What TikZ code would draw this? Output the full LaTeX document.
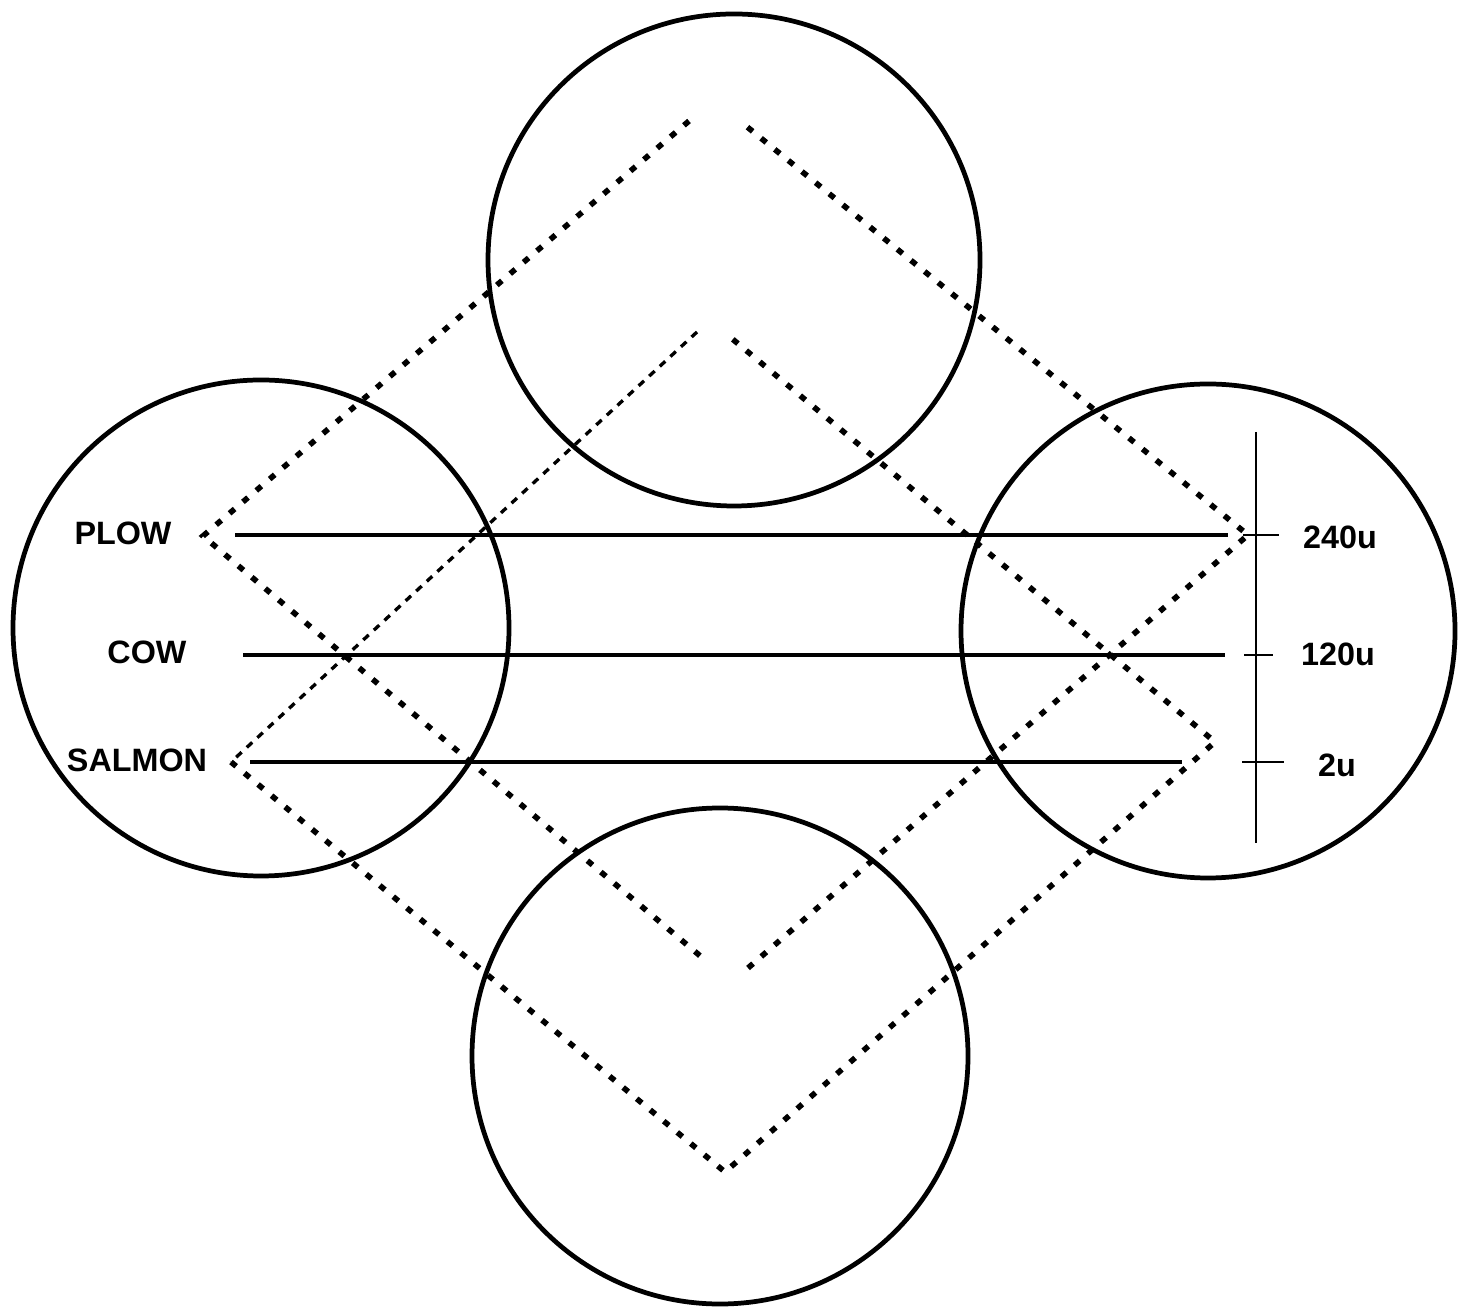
\documentclass[tikz,border=0pt]{standalone}
\usepackage{fontspec}
\setmainfont{Liberation Sans}
\usepackage{tikz}

\tikzset{
    ring/.style={draw,circle,line width=1.35pt,inner sep=0pt},
    bar/.style={line width=1.3pt},
    dots/.style={line width=1.6pt,dash pattern=on 1.9pt off 3.1pt},
    dashes/.style={line width=0.95pt,dash pattern=on 2.1pt off 2pt},
    scaleline/.style={line width=0.65pt},
    lab/.style={font=\fontsize{9.2}{11}\selectfont\bfseries}
}

\begin{document}
\begin{tikzpicture}
    \useasboundingbox (0,0) rectangle (14.59,13.08);

    % Circles
    \node[ring,minimum size=4.92cm] (north) at (7.34,10.48) {};
    \node[ring,minimum size=4.96cm] (west) at (2.61,6.80) {};
    \node[ring,minimum size=4.94cm] (east) at (12.08,6.77) {};
    \node[ring,minimum size=4.96cm] (south) at (7.20,2.52) {};

    % Outer dotted diamond
    \coordinate (a1) at (6.89,11.87);
    \coordinate (a2) at (7.46,11.82);
    \coordinate (ptip) at (2.03,7.72);
    \coordinate (b1) at (7.05,3.48);
    \coordinate (b2) at (7.48,3.40);
    \coordinate (rtip) at (12.48,7.73);
    \draw[dots] (a1) -- (ptip) -- (b1);
    \draw[dots] (b2) -- (rtip) -- (a2);

    % Inner dotted diamond
    \coordinate (c1) at (6.97,9.76);
    \coordinate (c2) at (7.30,9.71);
    \coordinate (stip) at (2.31,5.46);
    \coordinate (vtip) at (7.25,1.36);
    \coordinate (ttip) at (12.15,5.66);
    \draw[dashes] (c1) -- (stip);
    \draw[dots] (stip) -- (vtip) -- (ttip) -- (c2);

    % Labels
    \node[lab] (plow) at (1.23,7.75) {PLOW};
    \node[lab] (cow) at (1.47,6.56) {COW};
    \node[lab] (salmon) at (1.37,5.48) {SALMON};

    % Bars
    \coordinate (plowL) at (2.35,7.73);
    \coordinate (plowR) at (12.28,7.73);
    \coordinate (cowL) at (2.43,6.53);
    \coordinate (cowR) at (12.25,6.53);
    \coordinate (salmonL) at (2.50,5.46);
    \coordinate (salmonR) at (11.82,5.46);
    \draw[bar] (plowL) -- (plowR);
    \draw[bar] (cowL) -- (cowR);
    \draw[bar] (salmonL) -- (salmonR);

    % Scale
    \coordinate (top) at (12.56,8.76);
    \coordinate (bot) at (12.56,4.65);
    \draw[scaleline] (top) -- (bot);
    \coordinate (t1a) at (12.43,7.73);
    \coordinate (t1b) at (12.79,7.73);
    \coordinate (t2a) at (12.44,6.53);
    \coordinate (t2b) at (12.73,6.53);
    \coordinate (t3a) at (12.42,5.46);
    \coordinate (t3b) at (12.84,5.46);
    \draw[scaleline] (t1a) -- (t1b);
    \draw[scaleline] (t2a) -- (t2b);
    \draw[scaleline] (t3a) -- (t3b);
    \node[lab] (u240) at (13.40,7.71) {240u};
    \node[lab] (u120) at (13.38,6.54) {120u};
    \node[lab] (u2) at (13.37,5.43) {2u};
\end{tikzpicture}
\end{document}
